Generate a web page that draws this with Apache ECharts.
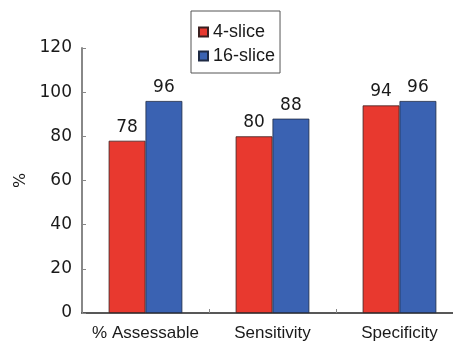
<!DOCTYPE html>
<html>
<head>
<meta charset="utf-8">
<script src="https://cdn.jsdelivr.net/npm/echarts@6/dist/echarts.min.js"></script>
<style>
  html, body { margin: 0; padding: 0; background: #fff; }
  #chart { width: 453px; height: 349px; }
</style>
</head>
<body>
<div id="chart"></div>
<script>
// Chart data
const categories = ['% Assessable', 'Sensitivity', 'Specificity'];
const fourSlice = [78, 80, 94];
const sixteenSlice = [96, 88, 96];
const yTicks = [0, 20, 40, 60, 80, 100, 120];

const FONT = '"DejaVu Sans", "Liberation Sans", sans-serif';
const FONT_NARROW = '"Liberation Sans", Arial, sans-serif';
const TEXT = '#1a1a1a';

const chart = echarts.init(document.getElementById('chart'), null, { renderer: 'canvas' });

const labelStyle = {
  show: true,
  position: 'top',
  distance: 5,
  color: TEXT,
  fontFamily: FONT,
  fontSize: 17
};

chart.setOption({
  animation: false,
  backgroundColor: '#fff',
  // plot area runs slightly past the right edge of the canvas
  grid: {
    left: 82, width: 381, top: 48, bottom: 36,
    containLabel: false,
    outerBoundsMode: 'none'
  },
  legend: {
    top: 11,
    left: 191,
    orient: 'vertical',
    itemWidth: 9,
    itemHeight: 9,
    itemGap: 6,
    padding: [12, 5, 8, 7],
    borderColor: '#555',
    borderWidth: 1,
    icon: 'rect',
    textStyle: { color: TEXT, fontFamily: FONT_NARROW, fontSize: 18 },
    data: ['4-slice', '16-slice']
  },
  xAxis: {
    type: 'category',
    data: categories,
    axisLine: { lineStyle: { color: '#222', width: 1.5 } },
    axisTick: { show: true, inside: true, length: 4, lineStyle: { color: '#888' } },
    axisLabel: { interval: 0, color: TEXT, fontFamily: FONT_NARROW, fontSize: 17, margin: 12 }
  },
  yAxis: {
    type: 'value',
    min: yTicks[0],
    max: yTicks[yTicks.length - 1],
    interval: yTicks[1] - yTicks[0],
    name: '%',
    nameLocation: 'middle',
    nameRotate: 90,
    nameGap: 48,
    nameTextStyle: { color: TEXT, fontFamily: FONT, fontSize: 16 },
    axisLine: { show: true, lineStyle: { color: '#888', width: 2 } },
    axisTick: { show: true, inside: true, length: 4, lineStyle: { color: '#888' } },
    axisLabel: { color: TEXT, fontFamily: FONT, fontSize: 17, margin: 10 },
    splitLine: { show: false }
  },
  series: [
    {
      name: '4-slice',
      type: 'bar',
      data: fourSlice,
      barGap: '0%',
      barCategoryGap: '42%',
      itemStyle: { color: '#e8392f', borderColor: '#3a2020', borderWidth: 0.8 },
      label: labelStyle
    },
    {
      name: '16-slice',
      type: 'bar',
      data: sixteenSlice,
      itemStyle: { color: '#3a62b2', borderColor: '#1e2a44', borderWidth: 0.8 },
      label: labelStyle
    }
  ]
});
</script>
</body>
</html>
